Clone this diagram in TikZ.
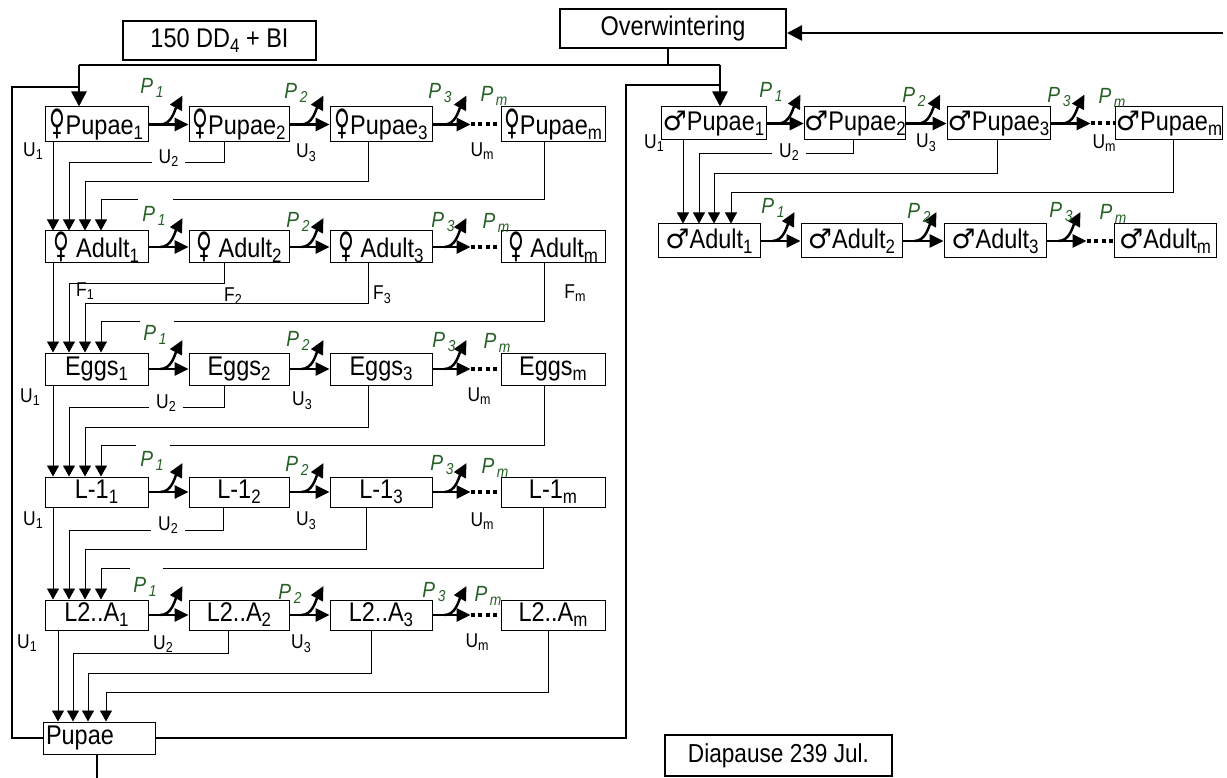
\documentclass[tikz,border=0pt]{standalone}
\usepackage{fontspec}
\setmainfont{Liberation Sans}[FakeStretch=0.87]
\newfontfamily\symfont{DejaVu Sans}
\usepackage{graphicx}
\usetikzlibrary{arrows.meta,calc}
\definecolor{pgreen}{RGB}{38,96,38}
\newcommand\sbs[1]{\raisebox{-0.35ex}{\scalebox{0.72}{#1}}}
\newcommand\fem{{\symfont\scalebox{0.8}[1.3]{♀}}}
\newcommand\mal{{\symfont ♂}}
\newcommand\branch[1]{%
  \draw[brarr] ($(#1.east)+(12,0)$) .. controls ($(#1.east)+(23,0)$) and ($(#1.east)+(26,-14)$) .. ($(#1.east)+(34,-29)$);}
\newcommand\trans[2]{%
  \draw[mainarr] (#1.east) -- (#2.west);
  \branch{#1}}
\newcommand\transd[3]{%
  \draw[mainarr] (#1.east) -- ++(#3,0) coordinate (#1d);
  \draw[dotline] (#1d) -- (#2.west);
  \branch{#1}}
\begin{document}
\begin{tikzpicture}[x=1pt,y=-1pt,
 box/.style={draw, line width=1pt, inner sep=0pt, font=\fontsize{27}{29}\selectfont},
 bigbox/.style={draw, line width=2pt, inner sep=0pt, font=\fontsize{27}{29}\selectfont},
 ulab/.style={inner sep=0pt, font=\fontsize{20}{20}\selectfont},
 wlab/.style={ulab, fill=white, inner xsep=7pt, inner ysep=1pt},
 plab/.style={inner sep=0pt, text=pgreen, font=\fontsize{22}{22}\selectfont\itshape},
 fb/.style={line width=0.9pt, -{Triangle[length=11pt,width=12pt]}},
 fbn/.style={line width=0.9pt},
 mainarr/.style={line width=2.7pt, -{Triangle[length=14pt,width=13pt]}},
 brarr/.style={line width=2.5pt, -{Triangle[length=14pt,width=13pt]}},
 dotline/.style={line width=4pt, dash pattern=on 4pt off 3.5pt},
 lp/.style={line width=2.5pt},
 lparr/.style={line width=2.5pt, -{Triangle[length=15pt,width=15pt]}},
]
\useasboundingbox (0,0) rectangle (1227,778);

% ---- top boxes ----
\node[bigbox, minimum width=193pt, minimum height=39pt] (dd) at (219.5,40.5) {150 DD\sbs{4} + BI};
\node[bigbox, minimum width=226pt, minimum height=39pt] (ov) at (673,28.5) {Overwintering};
\node[bigbox, minimum width=227pt, minimum height=41pt, font=\fontsize{26}{28}\selectfont] (dia) at (778.5,755.5) {Diapause 239 Jul.};

% ---- female chain ----
\node[box, minimum width=103pt, minimum height=35pt] (fp1) at (96.5,124.5) {\fem Pupae\sbs{1}};
\node[box, minimum width=100pt, minimum height=35pt] (fp2) at (239,124.5) {\fem Pupae\sbs{2}};
\node[box, minimum width=102pt, minimum height=35pt] (fp3) at (381,124.5) {\fem Pupae\sbs{3}};
\node[box, minimum width=104pt, minimum height=35pt] (fpm) at (553,124.5) {\fem Pupae\sbs{m}};

\node[box, minimum width=103pt, minimum height=32pt] (fa1) at (96.5,247) {\fem\ Adult\sbs{1}};
\node[box, minimum width=100pt, minimum height=32pt] (fa2) at (239,247) {\fem\ Adult\sbs{2}};
\node[box, minimum width=102pt, minimum height=32pt] (fa3) at (381,247) {\fem\ Adult\sbs{3}};
\node[box, minimum width=104pt, minimum height=32pt] (fam) at (553,247) {\fem\ Adult\sbs{m}};

\node[box, minimum width=103pt, minimum height=32pt] (fe1) at (96.5,369) {Eggs\sbs{1}};
\node[box, minimum width=100pt, minimum height=32pt] (fe2) at (239,369) {Eggs\sbs{2}};
\node[box, minimum width=102pt, minimum height=32pt] (fe3) at (381,369) {Eggs\sbs{3}};
\node[box, minimum width=104pt, minimum height=32pt] (fem) at (553,369) {Eggs\sbs{m}};

\node[box, minimum width=103pt, minimum height=30pt] (fl1) at (96.5,492) {L-1\sbs{1}};
\node[box, minimum width=100pt, minimum height=30pt] (fl2) at (239,492) {L-1\sbs{2}};
\node[box, minimum width=102pt, minimum height=30pt] (fl3) at (381,492) {L-1\sbs{3}};
\node[box, minimum width=104pt, minimum height=30pt] (flm) at (553,492) {L-1\sbs{m}};

\node[box, minimum width=103pt, minimum height=30pt] (fk1) at (96.5,615) {L2..A\sbs{1}};
\node[box, minimum width=100pt, minimum height=30pt] (fk2) at (239,615) {L2..A\sbs{2}};
\node[box, minimum width=102pt, minimum height=30pt] (fk3) at (381,615) {L2..A\sbs{3}};
\node[box, minimum width=104pt, minimum height=30pt] (fkm) at (553,615) {L2..A\sbs{m}};

\node[box, minimum width=112pt, minimum height=32pt, text width=106pt, align=left] (pp) at (99,738) {Pupae};

% ---- male chain ----
\node[box, minimum width=105pt, minimum height=33pt] (mp1) at (713.5,123.5) {\mal Pupae\sbs{1}};
\node[box, minimum width=100pt, minimum height=33pt] (mp2) at (855,123.5) {\mal Pupae\sbs{2}};
\node[box, minimum width=103pt, minimum height=33pt] (mp3) at (998.5,123.5) {\mal Pupae\sbs{3}};
\node[box, minimum width=102pt, minimum height=33pt] (mpm) at (1169,123.5) {\mal Pupae\sbs{m}};

\node[box, minimum width=102pt, minimum height=34pt] (ma1) at (709,241) {\mal Adult\sbs{1}};
\node[box, minimum width=101pt, minimum height=34pt] (ma2) at (851.5,241) {\mal Adult\sbs{2}};
\node[box, minimum width=102pt, minimum height=34pt] (ma3) at (995,241) {\mal Adult\sbs{3}};
\node[box, minimum width=102pt, minimum height=34pt] (mam) at (1165,241) {\mal Adult\sbs{m}};

% ---- transitions ----
\trans{fp1}{fp2}\trans{fp2}{fp3}\transd{fp3}{fpm}{38}
\trans{fa1}{fa2}\trans{fa2}{fa3}\transd{fa3}{fam}{38}
\trans{fe1}{fe2}\trans{fe2}{fe3}\transd{fe3}{fem}{38}
\trans{fl1}{fl2}\trans{fl2}{fl3}\transd{fl3}{flm}{38}
\trans{fk1}{fk2}\trans{fk2}{fk3}\transd{fk3}{fkm}{38}
\trans{mp1}{mp2}\trans{mp2}{mp3}\transd{mp3}{mpm}{40}
\trans{ma1}{ma2}\trans{ma2}{ma3}\transd{ma3}{mam}{40}

% ---- feedback lines: female ----
\draw[fb] ([xshift=-43.5]fp1.south) -- ([xshift=-43.5]fa1.north);
\draw[fb] ([xshift=-15]fp2.south) |- (69,162) -- ([xshift=-27.5]fa1.north);
\draw[fb] ([xshift=-13]fp3.south) |- (85,181) -- ([xshift=-11.5]fa1.north);
\draw[fbn] ([xshift=-9]fpm.south) |- (173,199);
\draw[fb] (138,199) -| ([xshift=4.5]fa1.north);

\draw[fb] ([xshift=-43.5]fa1.south) -- ([xshift=-43.5]fe1.north);
\draw[fb] ([xshift=-15]fa2.south) |- (69,283) -- ([xshift=-27.5]fe1.north);
\draw[fb] ([xshift=-13]fa3.south) |- (85,303) -- ([xshift=-11.5]fe1.north);
\draw[fbn] ([xshift=-9]fam.south) |- (174,321);
\draw[fb] (140,321) -| ([xshift=4.5]fe1.north);

\draw[fb] ([xshift=-43.5]fe1.south) -- ([xshift=-43.5]fl1.north);
\draw[fb] ([xshift=-15]fe2.south) |- (69,407) -- ([xshift=-27.5]fl1.north);
\draw[fb] ([xshift=-13]fe3.south) |- (85,427) -- ([xshift=-11.5]fl1.north);
\draw[fbn] ([xshift=-9]fem.south) |- (170,445);
\draw[fb] (136,445) -| ([xshift=4.5]fl1.north);

\draw[fb] ([xshift=-43.5]fl1.south) -- ([xshift=-43.5]fk1.north);
\draw[fb] ([xshift=-16]fl2.south) |- (69,530) -- ([xshift=-27.5]fk1.north);
\draw[fb] ([xshift=-15]fl3.south) |- (85,549) -- ([xshift=-11.5]fk1.north);
\draw[fbn] ([xshift=-10]flm.south) |- (163,568);
\draw[fb] (130,568) -| ([xshift=4.5]fk1.north);

\draw[fb] ([xshift=-38.5]fk1.south) -- ([xshift=-41]pp.north);
\draw[fb] ([xshift=-11]fk2.south) |- (73,653) -- ([xshift=-26]pp.north);
\draw[fb] ([xshift=-10]fk3.south) |- (88,673) -- ([xshift=-11]pp.north);
\draw[fb] ([xshift=-5]fkm.south) |- (106,692) -- ([xshift=7]pp.north);

% ---- feedback lines: male ----
\draw[fb] ([xshift=-30.5]mp1.south) -- ([xshift=-26]ma1.north);
\draw[fb] ([xshift=-2]mp2.south) |- (699,153) -- ([xshift=-10]ma1.north);
\draw[fb] ([xshift=-1.5]mp3.south) |- (714,173) -- ([xshift=5]ma1.north);
\draw[fb] ([xshift=4]mpm.south) |- (731,192) -- ([xshift=22]ma1.north);

% ---- big loops ----
\coordinate (jL) at (79,65);
\coordinate (jR) at (720,65);
\coordinate (rin) at (1223,33);
\coordinate (pend) at (97,790);
\draw[lparr] (rin) -- (rin -| ov.east);
\draw[lp] ([xshift=-5]ov.south) -- ([xshift=-5]ov.south |- jL);
\draw[lp] (jL) -- (jR);
\draw[lparr] (jL) -- ([xshift=-17.5]fp1.north);
\draw[lparr] (jR) -- ([xshift=6.5]mp1.north);
\draw[lp] (pp.west) -| (12,87) -- (79,87);
\draw[lp] (pp.east) -| (626,85) -- (720,85);
\draw[lp] ([xshift=-2]pp.south) -- (pend);

% ---- U / F labels ----
\node[ulab] (u11) at (33,151) {U\sbs{1}};
\node[wlab] (u12) at (168.5,158) {U\sbs{2}};
\node[ulab] (u13) at (306,153) {U\sbs{3}};
\node[ulab] (u1m) at (482,151) {U\sbs{m}};

\node[ulab] (f1) at (85,291) {F\sbs{1}};
\node[ulab] (f2) at (233,296) {F\sbs{2}};
\node[ulab] (f3) at (382,295) {F\sbs{3}};
\node[ulab] (fm) at (575,293) {F\sbs{m}};

\node[ulab] (u31) at (30,397) {U\sbs{1}};
\node[wlab] (u32) at (166,403) {U\sbs{2}};
\node[ulab] (u33) at (302,401) {U\sbs{3}};
\node[ulab] (u3m) at (479,396) {U\sbs{m}};

\node[ulab] (u41) at (33,520) {U\sbs{1}};
\node[wlab] (u42) at (168,525) {U\sbs{2}};
\node[ulab] (u43) at (306,521) {U\sbs{3}};
\node[ulab] (u4m) at (482,521) {U\sbs{m}};

\node[ulab] (u51) at (27,643) {U\sbs{1}};
\node[ulab] (u52) at (163,644) {U\sbs{2}};
\node[ulab] (u53) at (301,644) {U\sbs{3}};
\node[ulab] (u5m) at (477,642) {U\sbs{m}};

\node[ulab] (mu1) at (654,143) {U\sbs{1}};
\node[wlab] (mu2) at (789,152) {U\sbs{2}};
\node[ulab] (mu3) at (926,143) {U\sbs{3}};
\node[ulab] (mum) at (1104,143) {U\sbs{m}};

% ---- P labels ----
\node[plab] (p11) at (152,88) {P\sbs{\,1}};
\node[plab] (p12) at (296,93) {P\sbs{\,2}};
\node[plab] (p13) at (440,93) {P\sbs{\,3}};
\node[plab] (p1m) at (494,96) {P\sbs{\,m}};

\node[plab] (p21) at (154,216) {P\sbs{\,1}};
\node[plab] (p22) at (298,222) {P\sbs{\,2}};
\node[plab] (p23) at (443,222) {P\sbs{\,3}};
\node[plab] (p2m) at (496,223) {P\sbs{\,m}};

\node[plab] (p31) at (155,335) {P\sbs{\,1}};
\node[plab] (p32) at (298,341) {P\sbs{\,2}};
\node[plab] (p33) at (444,342) {P\sbs{\,3}};
\node[plab] (p3m) at (497,343) {P\sbs{\,m}};

\node[plab] (p41) at (152,461) {P\sbs{\,1}};
\node[plab] (p42) at (297,466) {P\sbs{\,2}};
\node[plab] (p43) at (442,465) {P\sbs{\,3}};
\node[plab] (p4m) at (495,468) {P\sbs{\,m}};

\node[plab] (p51) at (145,587) {P\sbs{\,1}};
\node[plab] (p52) at (290,594) {P\sbs{\,2}};
\node[plab] (p53) at (434,592) {P\sbs{\,3}};
\node[plab] (p5m) at (488,596) {P\sbs{\,m}};

\node[plab] (mp11) at (771,92) {P\sbs{\,1}};
\node[plab] (mp12) at (914,97) {P\sbs{\,2}};
\node[plab] (mp13) at (1059,97) {P\sbs{\,3}};
\node[plab] (mp1m) at (1112,98) {P\sbs{\,m}};

\node[plab] (ma11) at (773,208) {P\sbs{\,1}};
\node[plab] (ma12) at (919,213) {P\sbs{\,2}};
\node[plab] (ma13) at (1061,212) {P\sbs{\,3}};
\node[plab] (ma1m) at (1113,214) {P\sbs{\,m}};
\end{tikzpicture}
\end{document}
